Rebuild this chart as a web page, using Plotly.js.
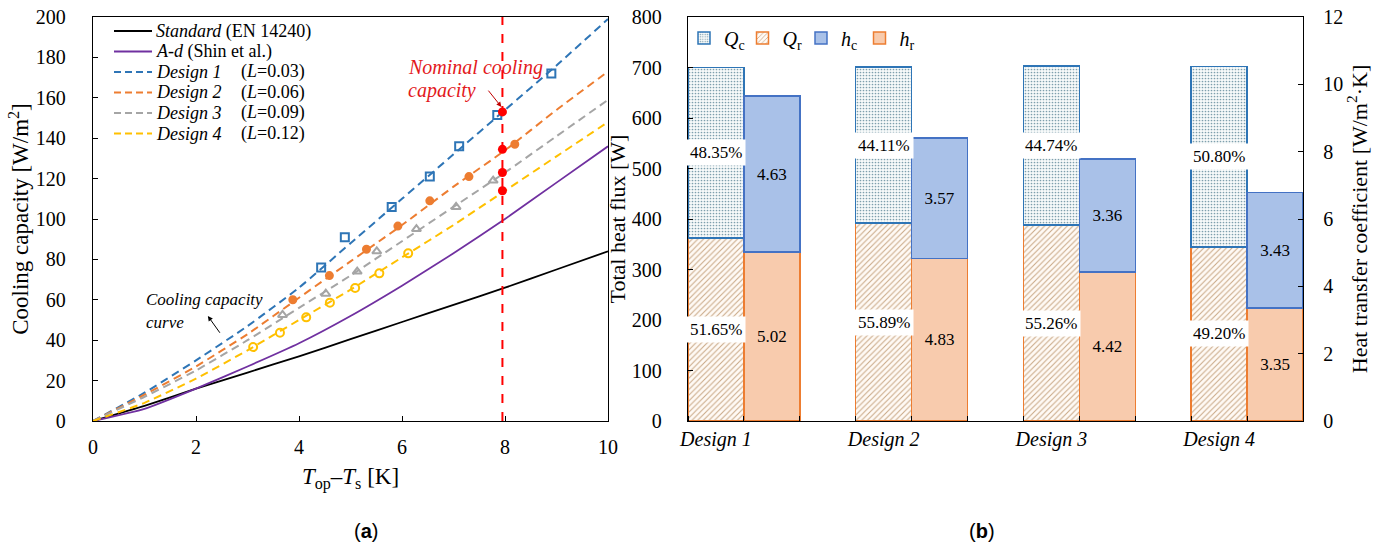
<!DOCTYPE html>
<html>
<head>
<meta charset="utf-8">
<script src="https://cdn.plot.ly/plotly-3.0.1.min.js"></script>
<style>html,body{margin:0;padding:0;background:#fff;}#chart{width:1384px;height:542px;}</style>
</head>
<body>
<div id="chart"></div>
<script>
// ---------- (a) cooling capacity data ----------
const tCurve = [0, 1, 2, 3, 4, 5, 6, 7, 8, 9, 10];
const standardY = [0, 7.5, 16, 24, 32, 40.5, 49, 57.5, 66, 75, 84];
const adY = [0, 6, 16, 27, 38.5, 52, 67, 83, 100, 118, 136];
const design1Y = [0, 14, 30, 47, 66, 88, 110, 132, 154, 176, 199];
const design2Y = [0, 13, 27, 43, 61, 79, 97, 116, 134, 154, 173];
const design3Y = [0, 12, 25, 40, 56, 72, 89, 106, 123, 141, 159];
const design4Y = [0, 9, 21, 35, 50, 65, 81, 97, 114, 131, 148];

const d1MarkX = [4.43, 4.89, 5.80, 6.54, 7.11, 7.85, 8.90];
const d1MarkY = [76, 91, 106, 121, 136, 151.5, 172];
const d2MarkX = [3.88, 4.59, 5.31, 5.92, 6.54, 7.30, 8.19];
const d2MarkY = [60, 72, 85, 96.5, 109, 121, 137];
const d3MarkX = [3.68, 4.52, 5.13, 5.51, 6.28, 7.05, 7.77];
const d3MarkY = [52.5, 63, 74, 84, 95, 106, 119];
const d4MarkX = [3.11, 3.63, 4.14, 4.60, 5.09, 5.56, 6.12];
const d4MarkY = [36.6, 43.7, 51.3, 58.6, 65.8, 73.1, 83];

const nominalT = 7.95;
const nominalY = [153, 134.5, 123, 114];

const legendNames = ['<i>Standard</i> (EN 14240)', '<i>A-d</i> (Shin et al.)', '<i>Design 1</i>', '<i>Design 2</i>', '<i>Design 3</i>', '<i>Design 4</i>'];
const legendL = ['', '', '(<i>L</i>=0.03)', '(<i>L</i>=0.06)', '(<i>L</i>=0.09)', '(<i>L</i>=0.12)'];

// ---------- (b) heat flux data ----------
const designs = ['Design 1', 'Design 2', 'Design 3', 'Design 4'];
const Qr = [362, 392, 388, 345];
const Qc = [338, 309, 315, 357];
const QrPct = ['51.65%', '55.89%', '55.26%', '49.20%'];
const QcPct = ['48.35%', '44.11%', '44.74%', '50.80%'];
const hr = [5.02, 4.83, 4.42, 3.35];
const hc = [4.63, 3.57, 3.36, 3.43];

// ---------- styling ----------
const SERIF = 'Liberation Serif';
const SANS = 'Liberation Sans';
const BLUE = '#2E75B6', ORANGE = '#ED7D31', GRAY = '#A5A5A5', YELLOW = '#FFC000', PURPLE = '#7030A0';
const DASH = '8px,5px';
const W = 1384, H = 542;
const px = v => v / W, py = v => 1 - v / H;

const qPos = designs.map((d, i) => 3 * i + 0.5);
const hPos = designs.map((d, i) => 3 * i + 1.5);

const lineColors = ['#000000', PURPLE, BLUE, ORANGE, GRAY, YELLOW];
const lineData = [standardY, adY, design1Y, design2Y, design3Y, design4Y];

const traces = [];
lineData.forEach((y, i) => {
  const dashed = i >= 2;
  traces.push({x: tCurve, y: y, name: legendNames[i], type: 'scatter', mode: 'lines', xaxis: 'x', yaxis: 'y',
    showlegend: false, hoverinfo: 'skip',
    line: {color: lineColors[i], width: dashed ? 2 : 1.8, dash: dashed ? DASH : 'solid', shape: 'spline', smoothing: 0.5}});
});

function markTrace(x, y, color, symbol, size) {
  traces.push({x: x, y: y, type: 'scatter', mode: 'markers', xaxis: 'x', yaxis: 'y', showlegend: false,
    marker: {symbol: symbol, size: size, color: color, line: {color: color, width: 2}}});
}
markTrace(d1MarkX, d1MarkY, BLUE, 'square-open', 8);
markTrace(d2MarkX, d2MarkY, ORANGE, 'circle', 7);
markTrace(d3MarkX, d3MarkY, GRAY, 'triangle-up-open', 8);
markTrace(d4MarkX, d4MarkY, YELLOW, 'circle-open', 8);
traces.push({x: nominalY.map(() => nominalT), y: nominalY, type: 'scatter', mode: 'markers', xaxis: 'x', yaxis: 'y',
  showlegend: false, marker: {color: '#FF0000', size: 9}});

// bars
traces.push({type: 'bar', name: '<i>Q</i><sub>r</sub>', x: qPos, y: Qr, width: 1, xaxis: 'x2', yaxis: 'y2', legend: 'legend2', legendrank: 2,
  marker: {color: '#FFFFFF', line: {color: ORANGE, width: 1.5},
    pattern: {shape: '/', fgcolor: '#C9A886', bgcolor: '#FFFAF5', size: 4, solidity: 0.25}}});
traces.push({type: 'bar', name: '<i>Q</i><sub>c</sub>', x: qPos, y: Qc, width: 1, xaxis: 'x2', yaxis: 'y2', legend: 'legend2', legendrank: 1,
  marker: {color: '#FFFFFF', line: {color: BLUE, width: 1.5},
    pattern: {shape: '.', fgcolor: '#7E9FAD', bgcolor: '#F7FAFA', size: 3, solidity: 0.25}}});
traces.push({type: 'bar', name: '<i>h</i><sub>r</sub>', x: hPos, y: hr, width: 1, xaxis: 'x2', yaxis: 'y3', legend: 'legend2', legendrank: 4,
  marker: {color: '#F8CBAD', line: {color: ORANGE, width: 1.5}},
  texttemplate: '%{y:.2f}', textposition: 'inside', insidetextanchor: 'middle', textangle: 0,
  textfont: {family: SERIF, size: 17, color: '#000'}, constraintext: 'none'});
traces.push({type: 'bar', name: '<i>h</i><sub>c</sub>', x: hPos, y: hc, width: 1, xaxis: 'x2', yaxis: 'y3', legend: 'legend2', legendrank: 3,
  marker: {color: '#A9C1E8', line: {color: '#4472C4', width: 1.5}},
  texttemplate: '%{y:.2f}', textposition: 'inside', insidetextanchor: 'middle', textangle: 0,
  textfont: {family: SERIF, size: 17, color: '#000'}, constraintext: 'none'});

const annotations = [];
const shapes = [{type: 'line', xref: 'x', yref: 'y', x0: nominalT, x1: nominalT, y0: 0, y1: 200,
  line: {color: '#FF0000', width: 2, dash: 'dash'}}];

// custom legend for panel (a)
const legRowY = [31, 51.5, 72, 92.5, 113, 133.5];
legendNames.forEach((name, i) => {
  shapes.push({type: 'line', xref: 'paper', yref: 'paper', x0: px(114), x1: px(152), y0: py(legRowY[i]), y1: py(legRowY[i]),
    line: {color: lineColors[i], width: i >= 2 ? 2 : 1.8, dash: i >= 2 ? '7px,4px' : 'solid'}});
  annotations.push({xref: 'paper', yref: 'paper', x: px(155), y: py(legRowY[i]), xanchor: 'left', yanchor: 'middle',
    borderpad: 0, text: name, showarrow: false, font: {family: SERIF, size: 18, color: '#000'}});
  if (legendL[i]) {
    annotations.push({xref: 'paper', yref: 'paper', x: px(240), y: py(legRowY[i]), xanchor: 'left', yanchor: 'middle',
      borderpad: 0, text: legendL[i], showarrow: false, font: {family: SERIF, size: 18, color: '#000'}});
  }
});

designs.forEach((d, i) => {
  annotations.push({xref: 'x2', yref: 'y2', x: qPos[i], y: Qr[i] / 2, text: QrPct[i], showarrow: false,
    bgcolor: '#FFFFFF', borderpad: 3, font: {family: SERIF, size: 17, color: '#000'}});
  annotations.push({xref: 'x2', yref: 'y2', x: qPos[i], y: Qr[i] + Qc[i] / 2, text: QcPct[i], showarrow: false,
    bgcolor: '#FFFFFF', borderpad: 3, font: {family: SERIF, size: 17, color: '#000'}});
});
annotations.push({xref: 'x', yref: 'y', x: 6.10, y: 175.2, xanchor: 'left', yanchor: 'middle', borderpad: 0,
  text: '<i>Nominal cooling</i>', showarrow: false, font: {family: SERIF, size: 20, color: '#E3191C'}});
annotations.push({xref: 'x', yref: 'y', x: 6.10, y: 163.4, xanchor: 'left', yanchor: 'middle', borderpad: 0,
  text: '<i>capacity</i>', showarrow: false, font: {family: SERIF, size: 20, color: '#E3191C'}});
annotations.push({xref: 'x', yref: 'y', x: 7.93, y: 155.5, ax: -16, ay: -20, text: ' ', showarrow: true,
  arrowhead: 2, arrowsize: 1, arrowwidth: 1, arrowcolor: '#C00000'});
annotations.push({xref: 'x', yref: 'y', x: 1.01, y: 60.2, xanchor: 'left', yanchor: 'middle', borderpad: 0,
  text: '<i>Cooling capacity</i>', showarrow: false, font: {family: SERIF, size: 17, color: '#000'}});
annotations.push({xref: 'x', yref: 'y', x: 1.01, y: 49.0, xanchor: 'left', yanchor: 'middle', borderpad: 0,
  text: '<i>curve</i>', showarrow: false, font: {family: SERIF, size: 17, color: '#000'}});
annotations.push({xref: 'x', yref: 'y', x: 2.23, y: 52, ax: 15, ay: 21, text: ' ', showarrow: true,
  arrowhead: 2, arrowsize: 1, arrowwidth: 1, arrowcolor: '#000'});
annotations.push({xref: 'paper', yref: 'paper', x: px(352), y: py(531), yanchor: 'middle', text: '(<b>a</b>)', showarrow: false,
  font: {family: SANS, size: 20, color: '#000'}});
annotations.push({xref: 'paper', yref: 'paper', x: px(997), y: py(531), yanchor: 'middle', text: '(<b>b</b>)', showarrow: false,
  font: {family: SANS, size: 20, color: '#000'}});

const axBase = {showgrid: false, zeroline: false, showline: true, linecolor: '#000', linewidth: 1.3,
  ticks: 'inside', ticklen: 5, tickcolor: '#000', tickfont: {family: SERIF, size: 20, color: '#000'}};

const layout = {
  width: W, height: H, margin: {l: 0, r: 0, t: 0, b: 0}, paper_bgcolor: '#fff', plot_bgcolor: 'rgba(0,0,0,0)',
  font: {family: SERIF, color: '#000'}, barmode: 'stack', showlegend: true,
  xaxis: Object.assign({}, axBase, {domain: [px(93), px(608)], range: [0, 10], dtick: 2, mirror: true, anchor: 'y',
    ticklabelstandoff: 8,
    title: {text: '<i>T</i><sub>op</sub>–<i>T</i><sub>s</sub> [K]', font: {family: SERIF, size: 23}, standoff: 10}}),
  yaxis: Object.assign({}, axBase, {domain: [py(421), py(17)], range: [0, 200], dtick: 20, mirror: true, anchor: 'x',
    ticklabelstandoff: 22,
    title: {text: 'Cooling capacity [W/m<sup>2</sup>]', font: {family: SERIF, size: 23}, standoff: 0}}),
  xaxis2: Object.assign({}, axBase, {domain: [px(688), px(1303)], range: [0, 11], anchor: 'y2', mirror: true,
    tickmode: 'array', tickvals: qPos, ticktext: designs.map(d => '<i>' + d + '</i>'), ticks: '',
    tickfont: {family: SERIF, size: 20, color: '#000'},
    minor: {tickmode: 'linear', tick0: 0, dtick: 1, ticks: 'inside', ticklen: 5, tickcolor: '#000', showgrid: false}}),
  yaxis2: Object.assign({}, axBase, {domain: [py(421), py(17)], range: [0, 800], dtick: 100, anchor: 'x2',
    ticklabelstandoff: 21,
    title: {text: 'Total heat flux [W]', font: {family: SERIF, size: 22}, standoff: 0}}),
  yaxis3: Object.assign({}, axBase, {domain: [py(421), py(17)], range: [0, 12], dtick: 2, anchor: 'x2',
    overlaying: 'y2', side: 'right', ticklabelstandoff: 15,
    title: {text: 'Heat transfer coefficient [W/m<sup>2</sup>·K]', font: {family: SERIF, size: 22}, standoff: 0}}),
  legend2: {x: px(684), y: py(38), xanchor: 'left', yanchor: 'middle', orientation: 'h', traceorder: 'normal',
    bgcolor: 'rgba(255,255,255,0)', font: {family: SERIF, size: 20, color: '#000'}, itemwidth: 30,
    entrywidth: 13.5, entrywidthmode: 'pixels'},
  shapes: shapes,
  annotations: annotations
};

Plotly.newPlot('chart', traces, layout, {displayModeBar: false, staticPlot: true});
</script>
</body>
</html>
